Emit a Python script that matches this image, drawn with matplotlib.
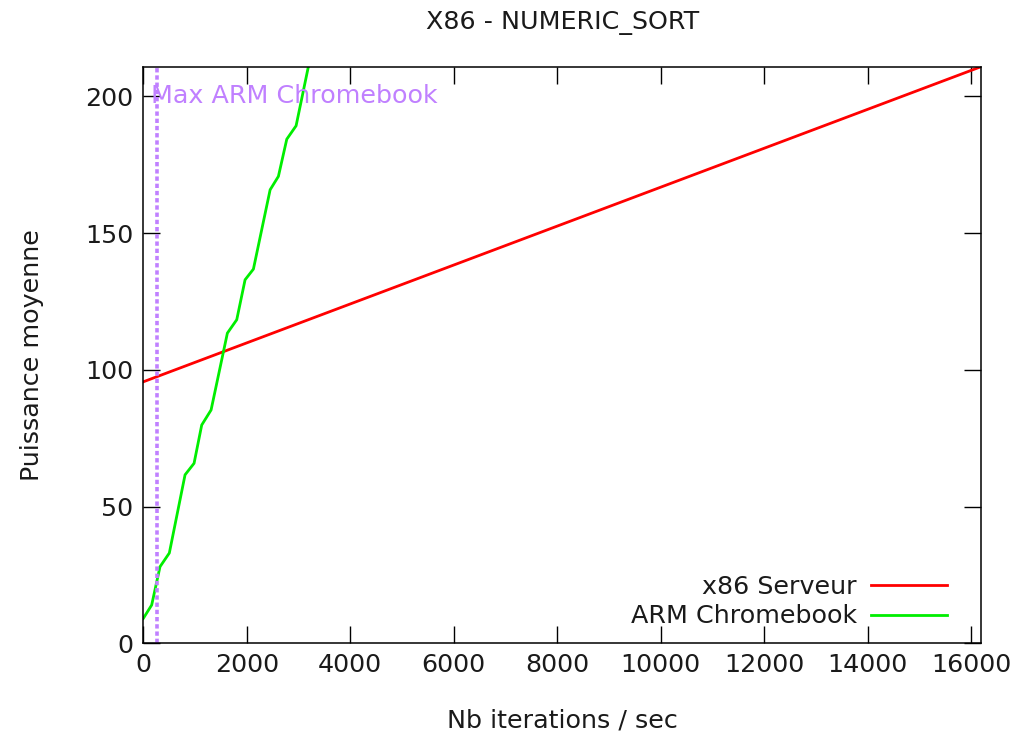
import matplotlib
matplotlib.use("Agg")
import matplotlib.pyplot as plt

# Data
x86_x = [0, 16190]
x86_y = [95.6, 210.8]

arm_x = [0, 162, 323, 503, 807, 981, 1129, 1310, 1625, 1806, 1967, 2128, 2451, 2611, 2773, 2953, 3280]
arm_y = [9.1, 14.0, 28.0, 33.0, 61.6, 65.8, 79.8, 85.3, 113.4, 118.3, 132.9, 136.8, 165.8, 170.7, 184.3, 189.2, 219.0]

max_arm_x = 265
title = "X86 - NUMERIC_SORT"
xlabel = "Nb iterations / sec"
ylabel = "Puissance moyenne"
series_names = ["x86 Serveur", "ARM Chromebook"]
xticks = [0, 2000, 4000, 6000, 8000, 10000, 12000, 14000, 16000]
yticks = [0, 50, 100, 150, 200]

FS = 18.3
TXT = '#1a1a1a'
plt.rcParams['font.family'] = ['DejaVu Sans']
fig = plt.figure(figsize=(10.28, 7.32), dpi=100)
ax = fig.add_axes([143.3/1028, 1 - 643.3/732, (981 - 143.3)/1028, (643.3 - 66.7)/732])

ax.plot(x86_x, x86_y, color='#ff0000', lw=2.0, label=series_names[0])
ax.plot(arm_x, arm_y, color='#00ee00', lw=2.0, label=series_names[1])
ax.axvline(max_arm_x, color='#c080ff', lw=2.6, ls=(0, (1.2, 0.8)))
ax.text(max_arm_x - 110, 200, "Max ARM Chromebook", color='#c080ff', fontsize=FS,
        va='center', ha='left')

ax.set_xlim(0, 16190)
ax.set_ylim(0, 210.8)
ax.set_xticks(xticks)
ax.set_yticks(yticks)
ax.tick_params(direction='in', length=12, width=1, top=True, right=True,
               labelsize=FS, pad=7, labelcolor=TXT)
for s in ax.spines.values():
    s.set_linewidth(1.1)

ax.set_title(title, fontsize=FS, pad=27, color=TXT)
ax.set_xlabel(xlabel, fontsize=FS, labelpad=23, color=TXT)
ax.set_ylabel(ylabel, fontsize=FS, labelpad=30, color=TXT)

leg = ax.legend(loc='lower right', frameon=False, markerfirst=False, fontsize=FS,
                handlelength=3.0, handletextpad=0.55, labelspacing=0.22,
                borderaxespad=0.5, bbox_to_anchor=(0.987, -0.014))
for t in leg.get_texts():
    t.set_ha('right')
    t.set_color(TXT)

fig.savefig("out.png", dpi=100)
